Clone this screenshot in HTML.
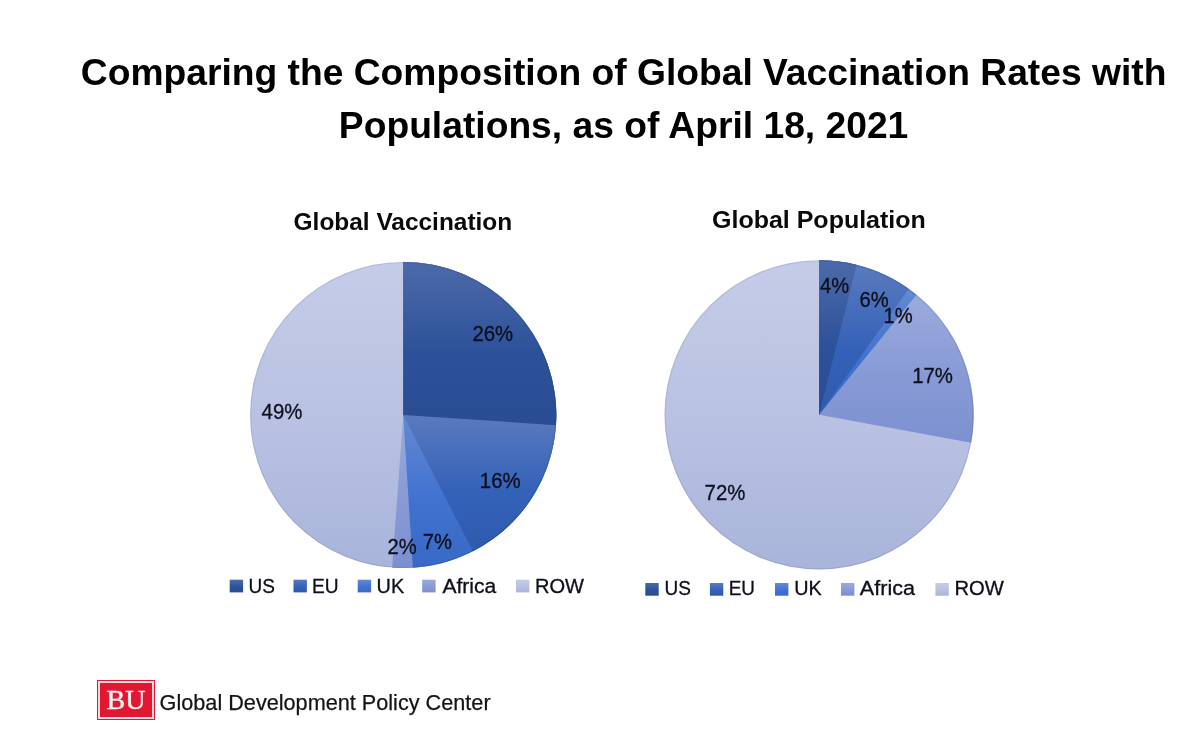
<!DOCTYPE html>
<html lang="en">
<head>
<meta charset="utf-8">
<title>Comparing the Composition of Global Vaccination Rates with Populations</title>
<style>
html,body{margin:0;padding:0;background:#fff;}
body{width:1200px;height:731px;position:relative;overflow:hidden;font-family:"Liberation Sans",sans-serif;}
h1{position:absolute;left:23.6px;width:1200px;top:45.5px;margin:0;text-align:center;font-family:"Liberation Sans",sans-serif;font-weight:bold;font-size:37.22px;line-height:53.3px;color:#000;}
.logo{position:absolute;left:97px;top:680px;width:58px;height:40px;background:#e21833;box-sizing:border-box;}
.logo i{position:absolute;left:1.3px;top:1.3px;right:1.3px;bottom:1.3px;border:2px solid #fbdadd;display:block;}
.logo b{position:absolute;left:0;top:0;width:58px;height:40px;line-height:40px;text-align:center;font-family:"Liberation Serif",serif;font-weight:normal;font-size:28px;color:#fdf0f0;letter-spacing:0;-webkit-text-stroke:0.45px #fdf0f0;}
</style>
</head>
<body>
<h1>Comparing the Composition of Global Vaccination Rates with<br>Populations, as of April 18, 2021</h1>
<svg width="1200" height="731" viewBox="0 0 1200 731" style="position:absolute;left:0;top:0">
<defs>
<linearGradient id="g-us" x1="0" y1="0" x2="0" y2="1"><stop offset="0" stop-color="#4c6aa9"/><stop offset="0.55" stop-color="#2d529a"/><stop offset="1" stop-color="#294c92"/></linearGradient>
<linearGradient id="g-eu" x1="0" y1="0" x2="0" y2="1"><stop offset="0" stop-color="#5a7abe"/><stop offset="0.55" stop-color="#3562b9"/><stop offset="1" stop-color="#2e5aaf"/></linearGradient>
<linearGradient id="g-uk" x1="0" y1="0" x2="0" y2="1"><stop offset="0" stop-color="#648ad3"/><stop offset="0.55" stop-color="#4072cf"/><stop offset="1" stop-color="#3869c7"/></linearGradient>
<linearGradient id="g-af" x1="0" y1="0" x2="0" y2="1"><stop offset="0" stop-color="#9babdd"/><stop offset="0.55" stop-color="#889ad6"/><stop offset="1" stop-color="#7c90d0"/></linearGradient>
<linearGradient id="g-row" x1="0" y1="0" x2="0" y2="1"><stop offset="0" stop-color="#c5cce8"/><stop offset="0.55" stop-color="#b8c1e2"/><stop offset="1" stop-color="#a9b4db"/></linearGradient>
<linearGradient id="l-row" gradientUnits="userSpaceOnUse" x1="0" y1="261.90" x2="0" y2="567.70"><stop offset="0" stop-color="#c5cce8"/><stop offset="0.55" stop-color="#b8c1e2"/><stop offset="1" stop-color="#a9b4db"/></linearGradient>
<linearGradient id="l-af" gradientUnits="userSpaceOnUse" x1="0" y1="415.00" x2="0" y2="568.10"><stop offset="0" stop-color="#9babdd"/><stop offset="0.55" stop-color="#889ad6"/><stop offset="1" stop-color="#7c90d0"/></linearGradient>
<linearGradient id="l-uk" gradientUnits="userSpaceOnUse" x1="0" y1="415.00" x2="0" y2="567.80"><stop offset="0" stop-color="#648ad3"/><stop offset="0.55" stop-color="#4072cf"/><stop offset="1" stop-color="#3869c7"/></linearGradient>
<linearGradient id="l-eu" gradientUnits="userSpaceOnUse" x1="0" y1="415.00" x2="0" y2="551.33"><stop offset="0" stop-color="#5a7abe"/><stop offset="0.55" stop-color="#3562b9"/><stop offset="1" stop-color="#2e5aaf"/></linearGradient>
<linearGradient id="l-us" gradientUnits="userSpaceOnUse" x1="0" y1="261.90" x2="0" y2="425.19"><stop offset="0" stop-color="#4c6aa9"/><stop offset="0.55" stop-color="#2d529a"/><stop offset="1" stop-color="#294c92"/></linearGradient>
<linearGradient id="r-row" gradientUnits="userSpaceOnUse" x1="0" y1="260.20" x2="0" y2="569.40"><stop offset="0" stop-color="#c5cce8"/><stop offset="0.55" stop-color="#b8c1e2"/><stop offset="1" stop-color="#a9b4db"/></linearGradient>
<linearGradient id="r-af" gradientUnits="userSpaceOnUse" x1="0" y1="294.76" x2="0" y2="442.81"><stop offset="0" stop-color="#9babdd"/><stop offset="0.55" stop-color="#889ad6"/><stop offset="1" stop-color="#7c90d0"/></linearGradient>
<linearGradient id="r-uk" gradientUnits="userSpaceOnUse" x1="0" y1="288.88" x2="0" y2="414.80"><stop offset="0" stop-color="#648ad3"/><stop offset="0.55" stop-color="#4072cf"/><stop offset="1" stop-color="#3869c7"/></linearGradient>
<linearGradient id="r-eu" gradientUnits="userSpaceOnUse" x1="0" y1="264.82" x2="0" y2="414.80"><stop offset="0" stop-color="#5a7abe"/><stop offset="0.55" stop-color="#3562b9"/><stop offset="1" stop-color="#2e5aaf"/></linearGradient>
<linearGradient id="r-us" gradientUnits="userSpaceOnUse" x1="0" y1="260.20" x2="0" y2="414.80"><stop offset="0" stop-color="#4c6aa9"/><stop offset="0.55" stop-color="#2d529a"/><stop offset="1" stop-color="#294c92"/></linearGradient>
</defs>
<!-- left pie -->
<circle cx="403.2" cy="415" r="153.1" fill="url(#l-row)"/>
<path d="M403.20,415.00 L403.20,261.90 A153.1,153.1 0 1 1 392.15,567.70 Z" fill="url(#l-af)"/>
<path d="M403.20,415.00 L403.20,261.90 A153.1,153.1 0 0 1 412.81,567.80 Z" fill="url(#l-uk)"/>
<path d="M403.20,415.00 L403.20,261.90 A153.1,153.1 0 0 1 472.88,551.33 Z" fill="url(#l-eu)"/>
<path d="M403.20,415.00 L403.20,261.90 A153.1,153.1 0 0 1 555.96,425.19 Z" fill="url(#l-us)"/>
<circle cx="403.2" cy="415" r="152.50" fill="none" stroke="#0a1a50" stroke-opacity="0.09" stroke-width="1.2"/>
<!-- right pie -->
<circle cx="819.1" cy="414.8" r="154.6" fill="url(#r-row)"/>
<path d="M819.10,414.80 L819.10,260.20 A154.6,154.6 0 0 1 971.14,442.81 Z" fill="url(#r-af)"/>
<path d="M819.10,414.80 L819.10,260.20 A154.6,154.6 0 0 1 916.52,294.76 Z" fill="url(#r-uk)"/>
<path d="M819.10,414.80 L819.10,260.20 A154.6,154.6 0 0 1 908.79,288.88 Z" fill="url(#r-eu)"/>
<path d="M819.10,414.80 L819.10,260.20 A154.6,154.6 0 0 1 856.61,264.82 Z" fill="url(#r-us)"/>
<circle cx="819.1" cy="414.8" r="154.00" fill="none" stroke="#0a1a50" stroke-opacity="0.09" stroke-width="1.2"/>
<!-- chart titles -->
<text x="293.6" y="230" font-family="Liberation Sans, sans-serif" font-weight="bold" font-size="23.5" fill="#0a0a0a" textLength="218.6" lengthAdjust="spacingAndGlyphs">Global Vaccination</text>
<text x="712.0" y="227.6" font-family="Liberation Sans, sans-serif" font-weight="bold" font-size="23.5" fill="#0a0a0a" textLength="213.8" lengthAdjust="spacingAndGlyphs">Global Population</text>
<!-- left labels -->
<text x="472.4" y="340.6" font-family="Liberation Sans, sans-serif" font-size="22.2" fill="#0d0f1c" stroke="#0d0f1c" stroke-width="0.3" textLength="40.8" lengthAdjust="spacingAndGlyphs">26%</text>
<text x="479.8" y="488" font-family="Liberation Sans, sans-serif" font-size="22.2" fill="#0d0f1c" stroke="#0d0f1c" stroke-width="0.3" textLength="40.8" lengthAdjust="spacingAndGlyphs">16%</text>
<text x="422.7" y="548.8" font-family="Liberation Sans, sans-serif" font-size="22.2" fill="#0d0f1c" stroke="#0d0f1c" stroke-width="0.3" textLength="29.2" lengthAdjust="spacingAndGlyphs">7%</text>
<text x="387.6" y="554.3" font-family="Liberation Sans, sans-serif" font-size="22.2" fill="#0d0f1c" stroke="#0d0f1c" stroke-width="0.3" textLength="29.2" lengthAdjust="spacingAndGlyphs">2%</text>
<text x="261.6" y="419" font-family="Liberation Sans, sans-serif" font-size="22.2" fill="#0d0f1c" stroke="#0d0f1c" stroke-width="0.3" textLength="40.8" lengthAdjust="spacingAndGlyphs">49%</text>
<!-- right labels -->
<text x="820" y="293.4" font-family="Liberation Sans, sans-serif" font-size="22.2" fill="#0d0f1c" stroke="#0d0f1c" stroke-width="0.3" textLength="29.2" lengthAdjust="spacingAndGlyphs">4%</text>
<text x="859.6" y="306.6" font-family="Liberation Sans, sans-serif" font-size="22.2" fill="#0d0f1c" stroke="#0d0f1c" stroke-width="0.3" textLength="29.2" lengthAdjust="spacingAndGlyphs">6%</text>
<text x="883.5" y="323.4" font-family="Liberation Sans, sans-serif" font-size="22.2" fill="#0d0f1c" stroke="#0d0f1c" stroke-width="0.3" textLength="29.2" lengthAdjust="spacingAndGlyphs">1%</text>
<text x="912.2" y="382.6" font-family="Liberation Sans, sans-serif" font-size="22.2" fill="#0d0f1c" stroke="#0d0f1c" stroke-width="0.3" textLength="40.8" lengthAdjust="spacingAndGlyphs">17%</text>
<text x="704.6" y="499.9" font-family="Liberation Sans, sans-serif" font-size="22.2" fill="#0d0f1c" stroke="#0d0f1c" stroke-width="0.3" textLength="40.8" lengthAdjust="spacingAndGlyphs">72%</text>
<!-- legends -->
<rect x="229.7" y="579.7" width="13.4" height="12.7" fill="url(#g-us)"/>
<text x="248.6" y="592.5" font-family="Liberation Sans, sans-serif" font-size="19.6" fill="#0d0f1c" stroke="#0d0f1c" stroke-width="0.3" textLength="26.4" lengthAdjust="spacingAndGlyphs">US</text>
<rect x="293.5" y="579.7" width="13.4" height="12.7" fill="url(#g-eu)"/>
<text x="312.0" y="592.5" font-family="Liberation Sans, sans-serif" font-size="19.6" fill="#0d0f1c" stroke="#0d0f1c" stroke-width="0.3" textLength="26.6" lengthAdjust="spacingAndGlyphs">EU</text>
<rect x="357.7" y="579.7" width="13.4" height="12.7" fill="url(#g-uk)"/>
<text x="376.6" y="592.5" font-family="Liberation Sans, sans-serif" font-size="19.6" fill="#0d0f1c" stroke="#0d0f1c" stroke-width="0.3" textLength="27.6" lengthAdjust="spacingAndGlyphs">UK</text>
<rect x="422.2" y="579.7" width="13.4" height="12.7" fill="url(#g-af)"/>
<text x="442.4" y="592.5" font-family="Liberation Sans, sans-serif" font-size="19.6" fill="#0d0f1c" stroke="#0d0f1c" stroke-width="0.3" textLength="53.9" lengthAdjust="spacingAndGlyphs">Africa</text>
<rect x="516.0" y="579.7" width="13.4" height="12.7" fill="url(#g-row)"/>
<text x="535.0" y="592.5" font-family="Liberation Sans, sans-serif" font-size="19.6" fill="#0d0f1c" stroke="#0d0f1c" stroke-width="0.3" textLength="49" lengthAdjust="spacingAndGlyphs">ROW</text>
<rect x="645.3" y="583.0" width="13.4" height="12.7" fill="url(#g-us)"/>
<text x="664.6" y="595.2" font-family="Liberation Sans, sans-serif" font-size="19.6" fill="#0d0f1c" stroke="#0d0f1c" stroke-width="0.3" textLength="26.4" lengthAdjust="spacingAndGlyphs">US</text>
<rect x="709.9" y="583.0" width="13.4" height="12.7" fill="url(#g-eu)"/>
<text x="728.8" y="595.2" font-family="Liberation Sans, sans-serif" font-size="19.6" fill="#0d0f1c" stroke="#0d0f1c" stroke-width="0.3" textLength="26.2" lengthAdjust="spacingAndGlyphs">EU</text>
<rect x="775.0" y="583.0" width="13.4" height="12.7" fill="url(#g-uk)"/>
<text x="794.3" y="595.2" font-family="Liberation Sans, sans-serif" font-size="19.6" fill="#0d0f1c" stroke="#0d0f1c" stroke-width="0.3" textLength="27.5" lengthAdjust="spacingAndGlyphs">UK</text>
<rect x="841.0" y="583.0" width="13.4" height="12.7" fill="url(#g-af)"/>
<text x="859.8" y="595.2" font-family="Liberation Sans, sans-serif" font-size="19.6" fill="#0d0f1c" stroke="#0d0f1c" stroke-width="0.3" textLength="55.3" lengthAdjust="spacingAndGlyphs">Africa</text>
<rect x="935.4" y="583.0" width="13.4" height="12.7" fill="url(#g-row)"/>
<text x="954.5" y="595.2" font-family="Liberation Sans, sans-serif" font-size="19.6" fill="#0d0f1c" stroke="#0d0f1c" stroke-width="0.3" textLength="49.4" lengthAdjust="spacingAndGlyphs">ROW</text>
</svg>
<div class="logo"><i></i><b>BU</b></div>
<svg width="400" height="40" viewBox="0 0 400 40" style="position:absolute;left:150px;top:685px">
<text x="9.6" y="25" font-family="Liberation Sans, sans-serif" font-size="22" fill="#141414" stroke="#141414" stroke-width="0.25" textLength="331" lengthAdjust="spacingAndGlyphs">Global Development Policy Center</text>
</svg>
</body>
</html>
